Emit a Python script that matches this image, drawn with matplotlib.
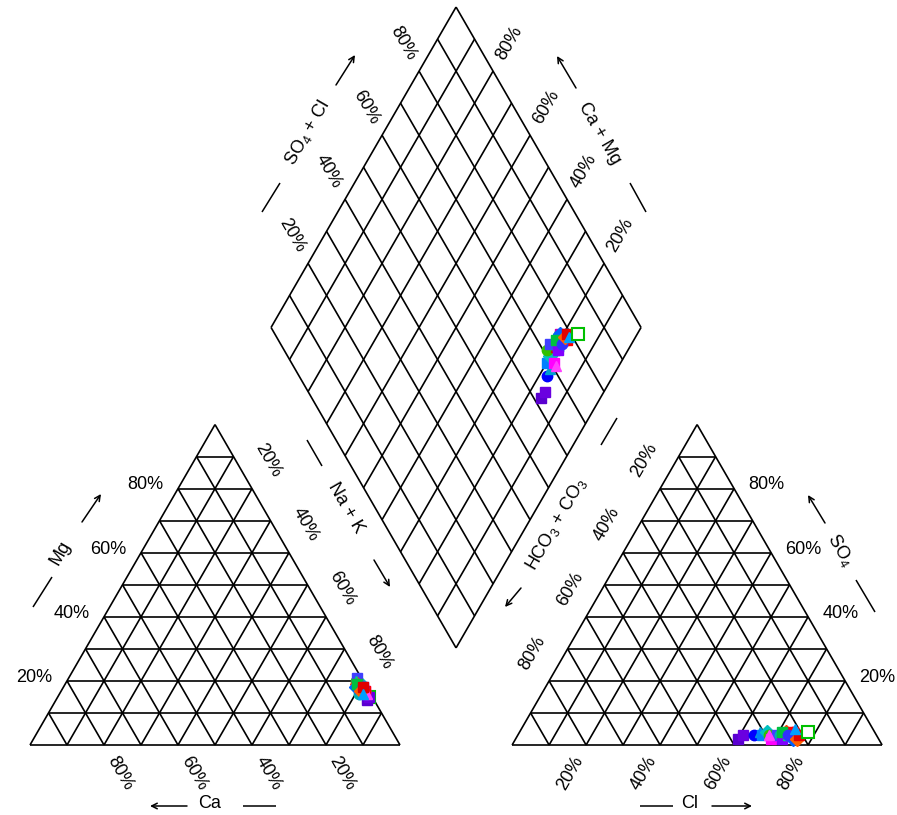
import numpy as np
import matplotlib
matplotlib.use("Agg")
import matplotlib.pyplot as plt

plt.rcParams['font.family'] = ['Liberation Sans', 'DejaVu Sans']
plt.rcParams['mathtext.default'] = 'regular'

# sample composition, percent of meq
ca  = [2, 1, 2, 1, 2, 1, 2, 1, 2, 1, 3, 2, 1, 2, 1, 2, 3, 1, 2, 1, 2, 1, 2, 1, 2, 1]
mg  = [14, 15, 16, 17, 18, 19, 20, 17, 18, 21, 16, 19, 18, 20, 17, 19, 18, 17, 17, 16, 19, 18, 17, 18, 16, 15]
so4 = [2, 3, 3, 4, 3, 4, 3, 2, 4, 3, 3, 4, 2, 3, 4, 3, 2, 4, 3, 3, 4, 3, 2, 3, 5, 4]
cl  = [60, 61, 64, 65, 66, 67, 68, 69, 70, 70, 71, 72, 72, 73, 74, 74, 75, 74, 76, 68, 71, 73, 76, 76, 74, 78]

colors = ['#5a00d0', '#6a00e0', '#0000ff', '#00a0d0', '#0080ff', '#00c0c0', '#30c000',
          '#ff00ff', '#e00000', '#4040ff', '#00b0b0', '#ff4000', '#8000ff', '#00d080',
          '#ff0080', '#c000c0', '#0060ff', '#ff0000', '#20b0e0', '#ff40ff', '#00c040',
          '#3030ff', '#ff6000', '#e00000', '#00a0ff', '#00c000']
markers = ['s', 's', 'o', '^', 's', 'D', 'o', 's', '^', 's', 'o', 'D', 's', '^', 'o', 's',
           'D', 's', 'o', '^', 's', 'o', 'D', 's', '^', 's']
ticks = [20, 40, 60, 80]

h = np.sqrt(3) / 2
gap = 0.303
x_right = 1 + gap
B = np.array([1 + gap / 2, gap * h])   # bottom corner of the diamond
u = np.array([0.5, h])
v = np.array([-0.5, h])

fig = plt.figure(figsize=(8.97, 8.15), dpi=100)
ax = fig.add_axes([0, 0, 1, 1])
ax.set_xlim(-30 / 370, 867 / 370)
ax.set_ylim(-70 / 370, 745 / 370)
ax.axis('off')

lw = 1.2


def line(p, q, **kw):
    ax.plot([p[0], q[0]], [p[1], q[1]], color='black', lw=kw.pop('lw', lw),
            solid_capstyle='butt', **kw)


def triangle(x0):
    A = np.array([x0, 0.0])
    line(A, A + [1, 0])
    line(A, A + u)
    line(A + [1, 0], A + u)
    for i in range(1, 10):
        f = i / 10
        line(A + f * u, A + [1, 0] + f * v)
        line(A + [f, 0], A + [f, 0] + (1 - f) * u)
        line(A + [f, 0], A + f * u)


triangle(0)
triangle(x_right)

# diamond
for i in range(0, 11):
    f = i / 10
    line(B + f * u, B + f * u + v)
    line(B + f * v, B + f * v + u)

ext = 0.088
fs = 13
for t in ticks:
    f = t / 100
    lab = '%d%%' % t
    # left triangle: Mg on left edge, Ca on base, Na+K on right edge
    p = np.array([f * 0.5, f * h]) + [-ext, 0.01]
    ax.text(p[0], p[1], lab, fontsize=fs, ha='center', va='center')
    p = np.array([1 - f, 0]) + ext * np.array([0.5, -h])
    ax.text(p[0], p[1], lab, fontsize=fs, ha='center', va='center', rotation=-60)
    p = np.array([0.5, h]) + f * np.array([0.5, -h]) + ext * u
    ax.text(p[0], p[1], lab, fontsize=fs, ha='center', va='center', rotation=-60)
    # right triangle: SO4 on right edge, Cl on base, HCO3 on left edge
    p = np.array([x_right + 1 - f * 0.5, f * h]) + [ext, 0.01]
    ax.text(p[0], p[1], lab, fontsize=fs, ha='center', va='center')
    p = np.array([x_right + f, 0]) - ext * u
    ax.text(p[0], p[1], lab, fontsize=fs, ha='center', va='center', rotation=60)
    p = np.array([x_right + 0.5, h]) + f * np.array([-0.5, -h]) + ext * v
    ax.text(p[0], p[1], lab, fontsize=fs, ha='center', va='center', rotation=60)
    # diamond: SO4+Cl upper left, Ca+Mg upper right
    p = B + v + f * u + ext * v
    ax.text(p[0], p[1], lab, fontsize=fs, ha='center', va='center', rotation=-60)
    p = B + u + f * v + ext * u
    ax.text(p[0], p[1], lab, fontsize=fs, ha='center', va='center', rotation=60)


def P(px, py):
    return np.array([(px - 30) / 370, (745 - py) / 370])


def title(text, pos, rot, dash, arrow):
    c = P(*pos)
    ax.text(c[0], c[1], text, fontsize=fs, ha='center', va='center', rotation=rot)
    a, b = P(*dash[0]), P(*dash[1])
    line(a, b, lw=1.1)
    a, b = P(*arrow[0]), P(*arrow[1])
    ax.annotate('', xy=b, xytext=a,
                arrowprops=dict(arrowstyle='->', color='black', lw=1.1,
                                shrinkA=0, shrinkB=0, mutation_scale=10))


title('Mg', (60, 553), 60, ((33, 607), (52, 577)), ((82, 522), (101, 494)))
title('Ca', (210, 803), 0, ((243, 806), (276, 806)), ((187, 806), (150, 806)))
title('Cl', (690, 803), 0, ((640, 806), (673, 806)), ((712, 806), (752, 806)))
title('SO$_4$', (840, 550), -60, ((856, 580), (875, 612)), ((825, 523), (808, 495)))
title('SO$_4$ + Cl', (307, 133), 60, ((280, 183), (262, 212)), ((336, 85), (355, 55)))
title('Ca + Mg', (599, 133), -60, ((630, 183), (646, 212)), ((576, 88), (557, 56)))
title('Na + K', (346, 508), -60, ((307, 440), (322, 466)), ((374, 560), (390, 587)))
title('HCO$_3$ + CO$_3$', (556, 524), 60, ((601, 445), (617, 418)), ((521, 588), (505, 607)))

# plot samples; the last one is drawn as an open green square
n = len(ca)
for i in range(n):
    nak = 100 - ca[i] - mg[i]
    cat = np.array([nak / 100 + mg[i] / 200, mg[i] / 100 * h])
    an = np.array([x_right + cl[i] / 100 + so4[i] / 200, so4[i] / 100 * h])
    s = (so4[i] + cl[i]) / 100
    c = (ca[i] + mg[i]) / 100
    dm = B + s * u + c * v
    if i == n - 1:
        for p, z in ((cat, 2.5), (an, 4), (dm, 4)):
            ax.plot(p[0], p[1], marker='s', mfc='white', mec=colors[i], ms=9, mew=1.5,
                    ls='none', zorder=z)
    else:
        for p in (cat, an, dm):
            ax.plot(p[0], p[1], marker=markers[i], color=colors[i], ms=7.5,
                    mec=colors[i], ls='none', zorder=3)

fig.savefig('out.png', dpi=100)
